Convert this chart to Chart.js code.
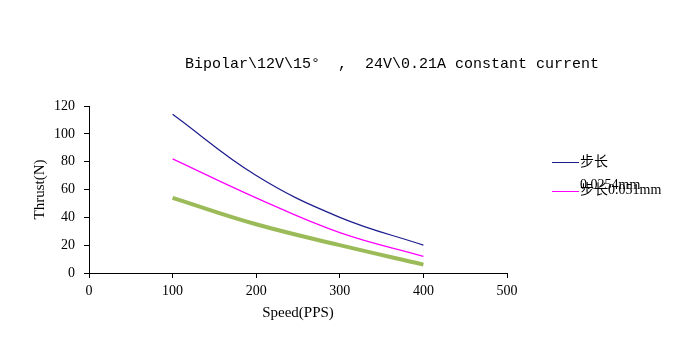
<!DOCTYPE html>
<html>
<head>
<meta charset="utf-8">
<script src="https://cdn.jsdelivr.net/npm/chart.js@4/dist/chart.umd.min.js"></script>
<style>
  html, body { margin: 0; padding: 0; background: #fff; }
  canvas { display: block; }
</style>
</head>
<body>
<canvas id="thrustChart" width="694" height="342"></canvas>
<script>
var speeds = [100, 200, 300, 400];
var thrust0254 = [114, 70, 40, 20];
var thrust051 = [82, 54, 29, 12];
var thrustLow = [54, 35, 20, 6];
var seriesLabels = ['步长0.0254mm', '步长0.051mm', ''];
var seriesColors = ['#1c1c8e', '#ff00ff', '#9bbb59'];
var xTicks = [0, 100, 200, 300, 400, 500];
var yTicks = [0, 20, 40, 60, 80, 100, 120];
var chartTitle = 'Bipolar\\12V\\15°  ,  24V\\0.21A constant current';

var serifFont = "'Liberation Serif', 'Noto Sans CJK SC', serif";

function toPoints(values) {
    return values.map(function(v, i) { return { x: speeds[i], y: v }; });
}

// title and the (wrapped) legend on the right side
var overlay = {
    id: 'overlay',
    afterDraw: function(chart) {
        var ctx = chart.ctx;
        ctx.save();
        ctx.fillStyle = '#000';
        ctx.textBaseline = 'middle';
        ctx.textAlign = 'center';
        ctx.font = "15px 'Liberation Mono', monospace";
        ctx.fillText(chartTitle, 392, 64);

        var rows = [
            { y: 162, lines: [[seriesLabels[0].slice(0, 2), 162], [seriesLabels[0].slice(2), 185]] },
            { y: 191, lines: [[seriesLabels[1], 190]] }
        ];
        ctx.textAlign = 'left';
        ctx.font = '14px ' + serifFont;
        rows.forEach(function(row, i) {
            ctx.strokeStyle = chart.data.datasets[i].borderColor;
            ctx.lineWidth = 1;
            ctx.beginPath();
            ctx.moveTo(552, row.y + 0.5);
            ctx.lineTo(579, row.y + 0.5);
            ctx.stroke();
            row.lines.forEach(function(l) {
                ctx.fillText(l[0], 580, l[1]);
            });
        });
        ctx.restore();
    }
};

var ctx = document.getElementById('thrustChart').getContext('2d');
var thrustChart = new Chart(ctx, {
    type: 'line',
    data: {
        datasets: [
            { label: seriesLabels[0], data: toPoints(thrust0254), borderColor: seriesColors[0], borderWidth: 1.2, tension: 0.4 },
            { label: seriesLabels[1], data: toPoints(thrust051), borderColor: seriesColors[1], borderWidth: 1.2, tension: 0.4 },
            { label: seriesLabels[2], data: toPoints(thrustLow), borderColor: seriesColors[2], borderWidth: 4, tension: 0.4 }
        ]
    },
    options: {
        responsive: false,
        animation: false,
        elements: { point: { radius: 0 } },
        layout: { padding: { left: 0, right: 187, top: 106, bottom: 0 } },
        plugins: {
            legend: { display: false },
            title: { display: false },
            tooltip: { enabled: false }
        },
        scales: {
            x: {
                type: 'linear',
                min: xTicks[0],
                max: xTicks[xTicks.length - 1],
                afterBuildTicks: function(scale) { scale.ticks = xTicks.map(function(v) { return { value: v }; }); },
                afterFit: function(scale) { scale.height = 69; },
                ticks: { color: '#000', font: { family: serifFont, size: 14 }, padding: 5, maxRotation: 0 },
                grid: { drawOnChartArea: false, color: '#000', tickLength: 5 },
                border: { color: '#000' },
                title: { display: true, text: 'Speed(PPS)', color: '#000', font: { family: serifFont, size: 15 }, padding: { bottom: 20 } }
            },
            y: {
                min: yTicks[0],
                max: yTicks[yTicks.length - 1],
                afterBuildTicks: function(scale) { scale.ticks = yTicks.map(function(v) { return { value: v }; }); },
                afterFit: function(scale) { scale.width = 89; },
                ticks: { color: '#000', font: { family: serifFont, size: 14 }, padding: 9 },
                grid: { drawOnChartArea: false, color: '#000', tickLength: 5 },
                border: { color: '#000' },
                title: { display: true, text: 'Thrust(N)', color: '#000', font: { family: serifFont, size: 15 }, padding: { top: 31 } }
            }
        }
    },
    plugins: [overlay]
});
</script>
</body>
</html>
